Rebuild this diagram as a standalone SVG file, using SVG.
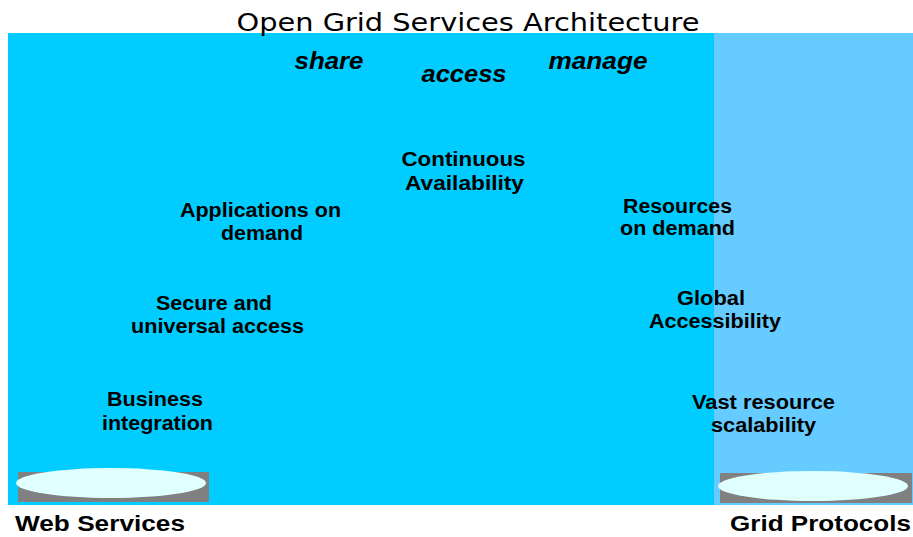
<svg xmlns="http://www.w3.org/2000/svg" width="913" height="537" viewBox="0 0 913 537">
<style>
text{font-family:"Liberation Sans",Arial,sans-serif;fill:#000}
.lbl{font-weight:bold;font-size:20px;text-anchor:middle}
.verb{font-weight:bold;font-style:italic;font-size:23px;text-anchor:middle}
.foot{font-weight:bold;font-size:21.5px}
.title{font-family:"DejaVu Sans",Verdana,sans-serif;font-size:25px;text-anchor:middle}
.base{fill:#808080}
.disc{fill:#E0FFFF}
</style>
<rect width="913" height="537" fill="#fff"/>
<g id="background">
<rect x="8" y="33" width="706" height="472" fill="#00CCFF"/>
<rect x="714" y="33" width="199" height="472" fill="#66CCFF"/>
</g>
<g id="title"><text class="title" x="468" y="31" textLength="463" lengthAdjust="spacingAndGlyphs">Open Grid Services Architecture</text></g>
<g id="verb-share"><text class="verb" x="329" y="69" textLength="69" lengthAdjust="spacingAndGlyphs">share</text></g>
<g id="verb-access"><text class="verb" x="464" y="82" textLength="85" lengthAdjust="spacingAndGlyphs">access</text></g>
<g id="verb-manage"><text class="verb" x="598" y="69" textLength="99" lengthAdjust="spacingAndGlyphs">manage</text></g>
<g id="continuous-availability">
<text class="lbl" x="463.5" y="166" textLength="124" lengthAdjust="spacingAndGlyphs">Continuous</text>
<text class="lbl" x="464.5" y="190" textLength="119" lengthAdjust="spacingAndGlyphs">Availability</text>
</g>
<g id="applications-on-demand">
<text class="lbl" x="260.5" y="217" textLength="161" lengthAdjust="spacingAndGlyphs">Applications on</text>
<text class="lbl" x="262" y="240" textLength="82" lengthAdjust="spacingAndGlyphs">demand</text>
</g>
<g id="resources-on-demand">
<text class="lbl" x="677.5" y="213" textLength="109" lengthAdjust="spacingAndGlyphs">Resources</text>
<text class="lbl" x="677.5" y="235" textLength="115" lengthAdjust="spacingAndGlyphs">on demand</text>
</g>
<g id="secure-universal-access">
<text class="lbl" x="214" y="310" textLength="116" lengthAdjust="spacingAndGlyphs">Secure and</text>
<text class="lbl" x="217.5" y="333" textLength="173" lengthAdjust="spacingAndGlyphs">universal access</text>
</g>
<g id="global-accessibility">
<text class="lbl" x="711" y="305" textLength="68" lengthAdjust="spacingAndGlyphs">Global</text>
<text class="lbl" x="715" y="328" textLength="132" lengthAdjust="spacingAndGlyphs">Accessibility</text>
</g>
<g id="business-integration">
<text class="lbl" x="155" y="406" textLength="96" lengthAdjust="spacingAndGlyphs">Business</text>
<text class="lbl" x="157.5" y="430" textLength="111" lengthAdjust="spacingAndGlyphs">integration</text>
</g>
<g id="vast-resource-scalability">
<text class="lbl" x="763.5" y="409" textLength="143" lengthAdjust="spacingAndGlyphs">Vast resource</text>
<text class="lbl" x="763.5" y="432" textLength="105" lengthAdjust="spacingAndGlyphs">scalability</text>
</g>
<g id="web-services">
<rect class="base" x="18" y="472" width="191" height="30"/>
<ellipse class="disc" cx="111" cy="483" rx="95" ry="15"/>
<text class="foot" x="15" y="531" textLength="170" lengthAdjust="spacingAndGlyphs">Web Services</text>
</g>
<g id="grid-protocols">
<rect class="base" x="720" y="473" width="192" height="30"/>
<ellipse class="disc" cx="813" cy="486" rx="95" ry="15"/>
<text class="foot" x="730" y="531" textLength="181" lengthAdjust="spacingAndGlyphs">Grid Protocols</text>
</g>
</svg>
